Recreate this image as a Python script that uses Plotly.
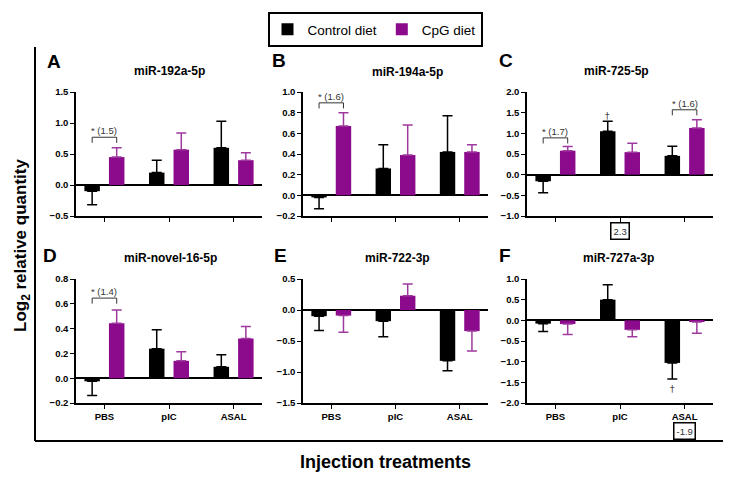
import plotly.graph_objects as go

# data
categories = ["PBS", "pIC", "ASAL"]
panel_titles = ["miR-192a-5p", "miR-194a-5p", "miR-725-5p",
                "miR-novel-16-5p", "miR-722-3p", "miR-727a-3p"]
panel_letters = ["A", "B", "C", "D", "E", "F"]

control_mean = [
    [-0.10, 0.20, 0.60],
    [-0.02, 0.26, 0.42],
    [-0.16, 1.05, 0.455],
    [-0.025, 0.238, 0.092],
    [-0.10, -0.18, -0.82],
    [-0.08, 0.50, -1.03],
]
control_err = [
    [0.22, 0.20, 0.43],
    [0.11, 0.23, 0.35],
    [0.28, 0.24, 0.235],
    [0.115, 0.152, 0.098],
    [0.23, 0.25, 0.16],
    [0.19, 0.36, 0.39],
]
cpg_mean = [
    [0.45, 0.57, 0.40],
    [0.67, 0.39, 0.42],
    [0.58, 0.545, 1.13],
    [0.443, 0.14, 0.32],
    [-0.09, 0.23, -0.34],
    [-0.09, -0.23, -0.04],
]
cpg_err = [
    [0.15, 0.27, 0.12],
    [0.13, 0.29, 0.07],
    [0.10, 0.215, 0.20],
    [0.107, 0.074, 0.096],
    [0.27, 0.19, 0.32],
    [0.25, 0.17, 0.27],
]
y_ranges = [[-0.5, 1.5], [-0.2, 1.0], [-1.0, 2.0], [-0.2, 0.8], [-1.5, 0.5], [-2.0, 1.0]]
y_dticks = [0.5, 0.2, 0.5, 0.2, 0.5, 0.5]

# significance brackets: panel, category index, bracket height, label
sig_panel = [0, 1, 2, 2, 3]
sig_cat = [0, 0, 0, 2, 0]
sig_y = [0.77, 0.895, 0.89, 1.57, 0.646]
sig_text = ["* (1.5)", "* (1.6)", "* (1.7)", "* (1.6)", "* (1.4)"]

# daggers: panel, category index, y
dag_panel = [2, 5]
dag_cat = [1, 2]
dag_y = [1.43, -1.66]

# boxed fold values below axes: panel, category index, text
box_panel = [2, 5]
box_cat = [1, 2]
box_text = ["2.3", "-1.9"]

W, H = 735, 478
BLACK = "#000000"
PURPLE = "#8C0A8C"
PURPLE_ERR = "#9E3A9E"
FONT = "Liberation Sans, Arial, sans-serif"

# plot area of each panel in pixels (left, right, top, bottom)
panel_px = [
    (76, 262, 92, 216), (303, 488, 92, 216), (527, 713, 92, 216),
    (76, 262, 279, 403), (303, 488, 279, 403), (527, 713, 279, 403),
]
title_px = [(169, 71), (407, 72), (616, 71), (170, 258), (397, 258), (618, 258)]
letter_px = [(54, 62), (279, 60), (506, 60), (50, 255), (280, 255), (505, 255)]

BAR_W = 0.24
HALF = 0.19


def px_x(v):
    return v / W


def px_y(v):
    return 1 - v / H


fig = go.Figure()
layout = dict()

for i in range(6):
    xa = "x" if i == 0 else f"x{i + 1}"
    ya = "y" if i == 0 else f"y{i + 1}"
    l, r, t, b = panel_px[i]

    c_plus = [e if m >= 0 else 0 for m, e in zip(control_mean[i], control_err[i])]
    c_minus = [0 if m >= 0 else e for m, e in zip(control_mean[i], control_err[i])]
    p_plus = [e if m >= 0 else 0 for m, e in zip(cpg_mean[i], cpg_err[i])]
    p_minus = [0 if m >= 0 else e for m, e in zip(cpg_mean[i], cpg_err[i])]

    fig.add_trace(go.Bar(
        x=categories, y=control_mean[i], name="Control diet",
        width=BAR_W, offset=-HALF - BAR_W / 2,
        marker=dict(color=BLACK, line=dict(width=0)),
        error_y=dict(type="data", symmetric=False, array=c_plus, arrayminus=c_minus,
                     color=BLACK, thickness=1.5, width=5),
        xaxis=xa, yaxis=ya, showlegend=(i == 0), legendgroup="c",
    ))
    fig.add_trace(go.Bar(
        x=categories, y=cpg_mean[i], name="CpG diet",
        width=BAR_W, offset=HALF - BAR_W / 2,
        marker=dict(color=PURPLE, line=dict(width=0)),
        error_y=dict(type="data", symmetric=False, array=p_plus, arrayminus=p_minus,
                     color=PURPLE_ERR, thickness=1.5, width=5),
        xaxis=xa, yaxis=ya, showlegend=(i == 0), legendgroup="p",
    ))

    key_x = "xaxis" if i == 0 else f"xaxis{i + 1}"
    key_y = "yaxis" if i == 0 else f"yaxis{i + 1}"
    layout[key_x] = dict(
        domain=[px_x(l), px_x(r)], anchor=ya, range=[-0.44, 2.44],
        type="category", categoryarray=categories, automargin=False,
        showline=True, linecolor=BLACK, linewidth=1.5,
        ticks="outside", ticklen=4, tickcolor=BLACK, tickwidth=1.2,
        showticklabels=(i >= 3), showgrid=False, zeroline=False,
        tickfont=dict(family=FONT, size=9.5, color=BLACK, weight="bold"),
    )
    layout[key_y] = dict(
        domain=[px_y(b), px_y(t)], anchor=xa, range=y_ranges[i],
        dtick=y_dticks[i], tickformat=".1f", automargin=False,
        showline=True, linecolor=BLACK, linewidth=1.5,
        ticks="outside", ticklen=4, tickcolor=BLACK, tickwidth=1.2,
        showgrid=False, zeroline=True, zerolinecolor=BLACK, zerolinewidth=1.5,
        tickfont=dict(family=FONT, size=9.5, color=BLACK, weight="bold"),
    )

annotations = []
shapes = []

for i in range(6):
    annotations.append(dict(
        x=px_x(title_px[i][0]), y=px_y(title_px[i][1]), xref="paper", yref="paper",
        xanchor="center", yanchor="middle",
        text=f"<b>{panel_titles[i]}</b>", showarrow=False,
        font=dict(family=FONT, size=12, color=BLACK),
    ))
    annotations.append(dict(
        x=px_x(letter_px[i][0]), y=px_y(letter_px[i][1]), xref="paper", yref="paper",
        xanchor="center", yanchor="middle",
        text=f"<b>{panel_letters[i]}</b>", showarrow=False,
        font=dict(family=FONT, size=19, color=BLACK),
    ))

for p, c, yv, txt in zip(sig_panel, sig_cat, sig_y, sig_text):
    xa = "x" if p == 0 else f"x{p + 1}"
    ya = "y" if p == 0 else f"y{p + 1}"
    span = y_ranges[p][1] - y_ranges[p][0]
    leg = span * 0.045
    x0, x1 = c - HALF, c + HALF
    shapes.append(dict(
        type="path", xref=xa, yref=ya,
        path=f"M {x0} {yv - leg} L {x0} {yv} L {x1} {yv} L {x1} {yv - leg}",
        line=dict(color="#333333", width=1),
    ))
    annotations.append(dict(
        x=c, y=yv, xref=xa, yref=ya, text=txt, showarrow=False,
        xanchor="center", yanchor="bottom", yshift=-1,
        font=dict(family=FONT, size=9.5, color="#333333"),
    ))

for p, c, yv in zip(dag_panel, dag_cat, dag_y):
    xa = "x" if p == 0 else f"x{p + 1}"
    ya = "y" if p == 0 else f"y{p + 1}"
    annotations.append(dict(
        x=c - HALF, y=yv, xref=xa, yref=ya, text="†", showarrow=False,
        xanchor="center", yanchor="middle",
        font=dict(family="DejaVu Sans, sans-serif", size=9, color="#444444"),
    ))

for p, c, txt in zip(box_panel, box_cat, box_text):
    xa = "x" if p == 0 else f"x{p + 1}"
    ya = "y" if p == 0 else f"y{p + 1}"
    annotations.append(dict(
        x=c, y=0, xref=xa, yref=f"{ya} domain", text=txt, showarrow=False,
        xanchor="center", yanchor="top", yshift=-6 if p == 2 else -19,
        bordercolor=BLACK, borderwidth=1.5, borderpad=2, bgcolor="white",
        font=dict(family=FONT, size=9.5, color="#333333"),
    ))

# overall axis titles
annotations.append(dict(
    x=px_x(22), y=px_y(246), xref="paper", yref="paper",
    xanchor="center", yanchor="middle",
    text="<b>Log<sub>2</sub> relative quantity</b>", textangle=-90, showarrow=False,
    font=dict(family=FONT, size=17, color=BLACK),
))
annotations.append(dict(
    x=px_x(385), y=px_y(462), xref="paper", yref="paper",
    xanchor="center", yanchor="middle",
    text="<b>Injection treatments</b>", showarrow=False,
    font=dict(family=FONT, size=18, color=BLACK),
))

# outer frame
shapes.append(dict(type="line", xref="paper", yref="paper",
                   x0=px_x(35), x1=px_x(35), y0=px_y(47), y1=px_y(441),
                   line=dict(color=BLACK, width=2)))
shapes.append(dict(type="line", xref="paper", yref="paper",
                   x0=px_x(35), x1=px_x(723), y0=px_y(441), y1=px_y(441),
                   line=dict(color=BLACK, width=2)))

fig.update_layout(
    **layout,
    width=W, height=H,
    margin=dict(l=0, r=0, t=0, b=0, autoexpand=False),
    paper_bgcolor="white", plot_bgcolor="white",
    barmode="overlay",
    font=dict(family=FONT, color=BLACK),
    annotations=annotations,
    shapes=shapes,
    legend=dict(
        orientation="h", x=px_x(375), xanchor="center", y=px_y(12), yanchor="top",
        bordercolor=BLACK, borderwidth=2, bgcolor="white",
        font=dict(family=FONT, size=13.5, color=BLACK),
        itemwidth=30, tracegroupgap=0,
    ),
)

fig.write_html("out.html", config={"displayModeBar": False},
               post_script="document.body.style.margin='0';")
